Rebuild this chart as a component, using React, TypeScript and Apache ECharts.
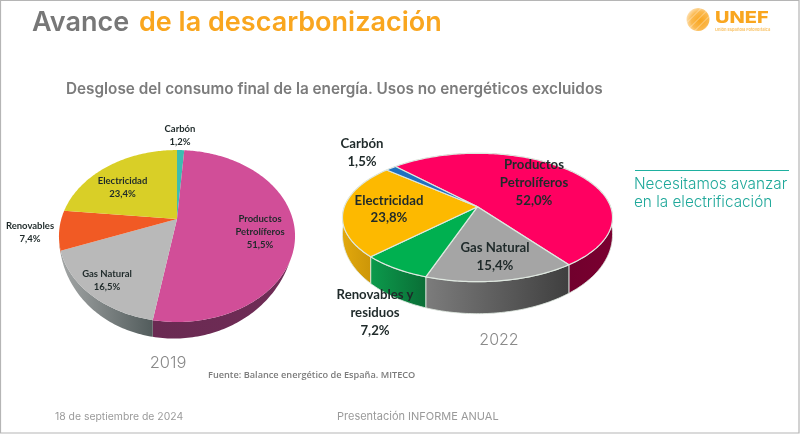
import React, { useEffect, useRef } from "react";
import * as echarts from "echarts";

const categories2019 = ["Carbón", "Productos\nPetrolíferos", "Gas Natural", "Renovables", "Electricidad"];
const values2019 = [1.2, 51.5, 16.5, 7.4, 23.4];
const categories2022 = ["Productos\nPetrolíferos", "Gas Natural", "Renovables y\nresiduos", "Electricidad", "Carbón"];
const values2022 = [52.0, 15.4, 7.2, 23.8, 1.5];

const tops2019 = ["#3dbcb0", "#d14e98", "#b9b9b9", "#f15a24", "#d9cf27"];
const sides2019 = [
  ["#2a8a80", "#2a8a80"],
  ["#6a2a52", "#6f2c56"],
  ["#a3a6a6", "#525c5c"],
  ["#b04018", "#b04018"],
  ["#a09a1c", "#a09a1c"],
];
const tops2022 = ["#ff0061", "#a5a5a5", "#00b050", "#fdb900", "#1f70c0"];
const sides2022 = [
  ["#4f0022", "#7a0030"],
  ["#7c7c7c", "#3f3f3f"],
  ["#0c9a4c", "#0a6e36"],
  ["#e2a80c", "#c08c06"],
  ["#1a5a9a", "#1a5a9a"],
];

const fmt = (v: number) => v.toFixed(1).replace(".", ",") + "%";

type Geo = {
  cx: number; cy: number; a: number; b: number; k: number; start: number;
  dBase: number; dFront: number; dLeft: number;
  stroke: string; strokeWidth: number;
};

const geo2019: Geo = { cx: 177, cy: 219, a: 115.7, b: 82.6, k: 0.198, start: 0, dBase: -8.9, dFront: 25.4, dLeft: 3.4, stroke: "none", strokeWidth: 0 };
const geo2022: Geo = { cx: 477.5, cy: 206.7, a: 133.1, b: 62.4, k: 0.168, start: -43.8, dBase: 14, dFront: 18, dLeft: 0, stroke: "#dfe8e0", strokeWidth: 1.2 };

function rim(g: Geo, deg: number): number[] {
  const t = (deg * Math.PI) / 180;
  const s = Math.sin(t);
  const c = Math.cos(t);
  const d = 1 + g.k * c;
  return [g.cx + (g.a * s) / d, g.cy - (g.b * c) / d];
}

function lowerRim(g: Geo, deg: number): number[] {
  const t = (deg * Math.PI) / 180;
  const [x, y] = rim(g, deg);
  const depth = Math.max(0, g.dBase + g.dFront * Math.max(-Math.cos(t), 0) - g.dLeft * Math.sin(t));
  return [x, y + depth];
}

function arcPoints(g: Geo, from: number, to: number, fn = rim): number[][] {
  const pts: number[][] = [];
  const n = Math.max(2, Math.ceil(to - from));
  for (let i = 0; i <= n; i++) pts.push(fn(g, from + ((to - from) * i) / n));
  return pts;
}

function range(values: number[], g: Geo, i: number): [number, number] {
  const sum = values.reduce((x, y) => x + y, 0);
  const before = values.slice(0, i).reduce((x, y) => x + y, 0);
  return [g.start + (before / sum) * 360, g.start + ((before + values[i]) / sum) * 360];
}

function sideSeries(values: number[], g: Geo, stops: string[][]) {
  return {
    type: "custom",
    coordinateSystem: "none",
    silent: true,
    z: 2,
    data: values,
    renderItem: (p: any) => {
      const [a0, a1] = range(values, g, p.dataIndex);
      const arc = arcPoints(g, a0, a1);
      const lower = arcPoints(g, a0, a1, lowerRim).reverse();
      return {
        type: "polygon",
        shape: { points: arc.concat(lower) },
        style: {
          fill: new echarts.graphic.LinearGradient(0, 0, 1, 0, [
            { offset: 0, color: stops[p.dataIndex][0] },
            { offset: 1, color: stops[p.dataIndex][1] },
          ]),
          stroke: g.stroke,
          lineWidth: g.strokeWidth * 0.7,
        },
      };
    },
  };
}

function topSeries(values: number[], g: Geo, colors: string[]) {
  return {
    type: "custom",
    coordinateSystem: "none",
    silent: true,
    z: 3,
    data: values,
    renderItem: (p: any) => {
      const [a0, a1] = range(values, g, p.dataIndex);
      return {
        type: "polygon",
        shape: { points: [[g.cx, g.cy], ...arcPoints(g, a0, a1)] },
        style: { fill: colors[p.dataIndex], stroke: g.stroke, lineWidth: g.strokeWidth, lineJoin: "round" },
      };
    },
  };
}

const txt = (text: string, x: number, y: number, font: string, fill: string, align = "left", lineHeight?: number) => ({
  type: "text",
  x,
  y,
  z: 10,
  silent: true,
  style: { text, font, fill, align, verticalAlign: "middle", lineHeight },
});

const LABEL_A = "700 9.5px Lato";
const LABEL_B = "700 13.2px Lato";
const DARK = "#1f2a2a";
const label = (name: string, v: number, x: number, y: number, font: string, lh: number) =>
  txt(`${name}\n${fmt(v)}`, x, y, font, DARK, "center", lh);

const SUN_STRIPES = [-8, -4, 0, 4, 8];

export default function App() {
  const ref = useRef<HTMLDivElement>(null);
  useEffect(() => {
    document.body.style.margin = "0";
    const chart = echarts.init(ref.current!, undefined, { renderer: "svg" });
    chart.setOption({
      animation: false,
      backgroundColor: "#ffffff",
      series: [
        sideSeries(values2019, geo2019, sides2019),
        topSeries(values2019, geo2019, tops2019),
        sideSeries(values2022, geo2022, sides2022),
        topSeries(values2022, geo2022, tops2022),
      ],
      graphic: [
        { type: "rect", silent: true, shape: { x: 0.5, y: 0.5, width: 798.5, height: 432.5 }, style: { fill: "none", stroke: "#b5b5b5", lineWidth: 1.2 } },
        txt("Avance", 32, 21, "600 27px Inter", "#777777"),
        txt("de la descarbonización", 139, 21, "600 27px Inter", "#f9a61f"),
        txt("Desglose del consumo final de la energía. Usos no energéticos excluidos", 66, 88, "600 15.3px Inter", "#7b7b7b"),
        {
          type: "circle",
          silent: true,
          shape: { cx: 698, cy: 19.5, r: 11.5 },
          style: {
            fill: new echarts.graphic.RadialGradient(0.6, 0.55, 0.65, [
              { offset: 0, color: "#f9a61f" },
              { offset: 0.6, color: "#fbb94f" },
              { offset: 1, color: "#fee6c0" },
            ]),
          },
        },
        ...SUN_STRIPES.map((o) => ({
          type: "line",
          silent: true,
          shape: { x1: 698 + o - 9, y1: 19.5 + o + 9, x2: 698 + o + 9, y2: 19.5 + o - 9 },
          style: { stroke: "#ffffff", lineWidth: 0.8, opacity: 0.55 },
        })),
        { ...txt("UNEF", 715, 16.5, "800 16.5px Inter", "#f9a61f"), scaleX: 1.21 },
        txt("Unión Española Fotovoltaica", 715, 29, "700 4px Inter", "#f9c46a"),
        { type: "line", silent: true, shape: { x1: 635, y1: 170.5, x2: 789, y2: 170.5 }, style: { stroke: "#1fb0a0", lineWidth: 1 } },
        txt("Necesitamos avanzar", 634, 183, "300 15.3px Inter", "#1fa89a"),
        txt("en la electrificación", 634, 201, "300 15.3px Inter", "#1fa89a"),
        label(categories2019[0], values2019[0], 180, 134.5, LABEL_A, 13),
        label(categories2019[4], values2019[4], 122.5, 187, LABEL_A, 13.5),
        label(categories2019[3], values2019[3], 30, 231.5, LABEL_A, 13),
        label(categories2019[2], values2019[2], 107, 279.5, LABEL_A, 13),
        label(categories2019[1], values2019[1], 260, 231.5, LABEL_A, 12.7),
        label(categories2022[4], values2022[4], 362, 152, LABEL_B, 18),
        label(categories2022[3], values2022[3], 389, 208.5, LABEL_B, 17.5),
        label(categories2022[1], values2022[1], 495, 256, LABEL_B, 18),
        label(categories2022[0], values2022[0], 534, 182, LABEL_B, 18),
        label(categories2022[2], values2022[2], 375, 312, LABEL_B, 18),
        txt("2019", 168, 362, "300 16.5px Inter", "#8a8a8a", "center"),
        txt("2022", 499, 339, "300 16px Inter", "#8a8a8a", "center"),
        txt("Fuente: Balance energético de España. MITECO", 208, 374, "600 9.2px 'Open Sans'", "#7b7b7b"),
        txt("18 de septiembre de 2024", 55, 416, "400 10.4px Inter", "#9a9a9a"),
        txt("Presentación INFORME ANUAL", 337, 416, "400 11px Inter", "#9a9a9a"),
      ],
    });
    return () => chart.dispose();
  }, []);
  return <div ref={ref} style={{ width: 800, height: 434, filter: "blur(0.3px)" }} />;
}
